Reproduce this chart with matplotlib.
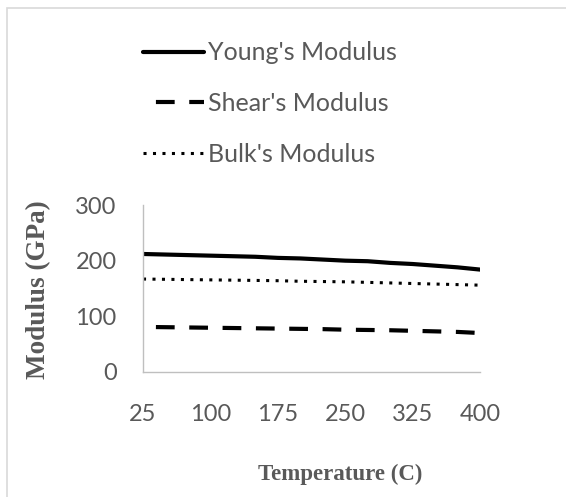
import matplotlib
matplotlib.use("Agg")
import matplotlib.pyplot as plt
from matplotlib.patches import Rectangle

# temperature categories (C)
temps = [25, 50, 75, 100, 125, 150, 175, 200, 225, 250, 275, 300, 325, 350, 375, 400]
young = [212, 211, 210, 209, 208, 207, 205, 204, 202, 200, 199, 196, 194, 191, 188, 184]
shear = [81, 80.5, 80, 79.5, 79, 78.5, 78, 77.5, 77, 76, 75.5, 75, 74, 73, 72, 70]
bulk = [167, 166.5, 166, 165.5, 165, 164.5, 164, 163, 162.5, 162, 161, 160, 159, 158, 157, 156]
shown_ticks = [25, 100, 175, 250, 325, 400]
y_ticks = [0, 100, 200, 300]

grey = "#595959"
W, H = 566, 497
fig = plt.figure(figsize=(W / 100, H / 100), dpi=100)
ax = fig.add_axes([143 / W, 1 - 372 / H, (480 - 143) / W, (372 - 205) / H])

x = list(range(len(temps)))
ax.plot(x, young, color="black", lw=3, solid_capstyle="round", label="Young's Modulus")
ax.plot(x, shear, color="black", lw=3, linestyle=(4.9, (4.5, 3.5)), label="Shear's Modulus")
ax.plot(x, bulk, color="black", lw=2.2, linestyle=(0, (1, 2.1)), label="Bulk's Modulus")

ax.set_xlim(0, len(temps) - 1)
ax.set_ylim(0, 300)
ax.set_xticks([temps.index(t) for t in shown_ticks])
ax.set_xticklabels([str(t) for t in shown_ticks])
ax.set_yticks(y_ticks)
for s in ["top", "right"]:
    ax.spines[s].set_visible(False)
for s in ["left", "bottom"]:
    ax.spines[s].set_color("#bfbfbf")
    ax.spines[s].set_linewidth(1)
ax.tick_params(axis="x", length=0, pad=23, labelsize=17, labelcolor=grey)
ax.tick_params(axis="y", length=0, pad=19, labelsize=17, labelcolor=grey)
for lab in ax.get_xticklabels() + ax.get_yticklabels():
    lab.set_fontfamily("Lato")

fig.text(340 / W, 1 - 474 / H, "Temperature (C)", ha="center", va="center",
         fontsize=16.5, fontweight="bold", family="Liberation Serif", color=grey)
fig.text(39 / W, 1 - 290 / H, "Modulus (GPa)", ha="center", va="center", rotation=90,
         fontsize=19.5, fontweight="bold", family="Liberation Serif", color=grey)

leg = fig.legend(loc="upper left", bbox_to_anchor=(120 / W, 1 - 19 / H), frameon=False,
                 handlelength=2.45, handletextpad=0.15, labelspacing=1.1,
                 prop={"family": "Lato", "size": 18})
for t in leg.get_texts():
    t.set_color(grey)

fig.add_artist(Rectangle((7 / W, -0.1), 1.2, 1 - 8 / H + 0.1, transform=fig.transFigure,
                         fill=False, edgecolor="#d9d9d9", lw=1.2))

fig.savefig("out.png", dpi=100)
